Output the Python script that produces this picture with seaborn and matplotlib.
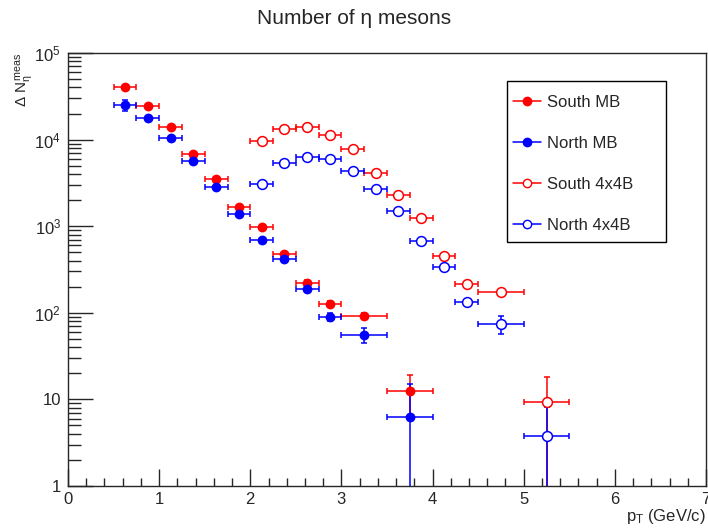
import numpy as np
import pandas as pd
import matplotlib
matplotlib.use("Agg")
import matplotlib.pyplot as plt
import seaborn as sns
from matplotlib.patches import Rectangle
from matplotlib.ticker import FixedLocator, LogLocator, NullFormatter, FixedFormatter, MultipleLocator

# ---- data ----
mb_pt = [0.625, 0.875, 1.125, 1.375, 1.625, 1.875, 2.125, 2.375, 2.625, 2.875, 3.25, 3.75]
mb_xerr = [0.125, 0.125, 0.125, 0.125, 0.125, 0.125, 0.125, 0.125, 0.125, 0.125, 0.25, 0.25]
south_mb = [40200, 24400, 14100, 6760, 3510, 1680, 971, 474, 223, 127, 92.6, 12.5]
south_mb_err = [1800, 1000, 600, 280, 150, 80, 45, 25, 14, 9, 8, 6.5]
north_mb = [25100, 17900, 10400, 5660, 2810, 1370, 693, 415, 188, 89.4, 55.4, 6.3]
north_mb_err = [3500, 900, 500, 250, 130, 70, 40, 25, 14, 9, 11, 8.6]

trg_pt = [2.125, 2.375, 2.625, 2.875, 3.125, 3.375, 3.625, 3.875, 4.125, 4.375, 4.75, 5.25]
trg_xerr = [0.125, 0.125, 0.125, 0.125, 0.125, 0.125, 0.125, 0.125, 0.125, 0.125, 0.25, 0.25]
south_4x4 = [9550, 13100, 14000, 11400, 7730, 4150, 2280, 1240, 453, 215, 174, 9.3]
south_4x4_err = [400, 500, 500, 450, 300, 170, 100, 60, 25, 15, 14, 8.8]
north_4x4 = [3100, 5410, 6290, 5920, 4340, 2670, 1500, 675, 341, 132, 74.3, 3.8]
north_4x4_err = [150, 220, 250, 240, 180, 110, 70, 35, 22, 12, 18, 4.4]

series = [
    ("South MB", mb_pt, mb_xerr, south_mb, south_mb_err, "#ff0000", True),
    ("North MB", mb_pt, mb_xerr, north_mb, north_mb_err, "#0000ff", True),
    ("South 4x4B", trg_pt, trg_xerr, south_4x4, south_4x4_err, "#ff0000", False),
    ("North 4x4B", trg_pt, trg_xerr, north_4x4, north_4x4_err, "#0000ff", False),
]

sns.set_style("ticks")
plt.rcParams['font.family'] = ['Liberation Sans', 'DejaVu Sans']
plt.rcParams['mathtext.fontset'] = 'custom'
plt.rcParams['mathtext.rm'] = 'Liberation Sans'
plt.rcParams['mathtext.it'] = 'Liberation Sans'
plt.rcParams['mathtext.bf'] = 'Liberation Sans'

fig = plt.figure(figsize=(7.08, 5.30), dpi=100)
ax = fig.add_axes([68/708, 1-486/530, (706-68)/708, (486-53)/530])

handles = []
for name, x, xe, y, ye, col, filled in series:
    x = np.array(x); y = np.array(y); ye = np.array(ye)
    lo = np.minimum(ye, y - 1e-3)
    ax.errorbar(x, y, xerr=xe, yerr=[lo, ye], fmt='none', ecolor=col,
                elinewidth=1.1, capsize=2.2, capthick=1.1, zorder=2)
    df = pd.DataFrame({"pt": x, "n": y})
    sns.scatterplot(data=df, x="pt", y="n", ax=ax, s=50, marker='o',
                    color=col if filled else 'white', edgecolor=col,
                    linewidth=0 if filled else 1.1, zorder=3, legend=False)
    h, = ax.plot([], [], color=col, marker='o', lw=1.1, ms=6,
                 mfc=col if filled else 'white', mec=col, mew=1.0)
    handles.append((h, name))

ax.set_yscale('log')
ax.set_xlim(0, 7)
ax.set_ylim(1, 1e5)
ax.set_xlabel('')
ax.set_ylabel('')

ax.xaxis.set_major_locator(MultipleLocator(1))
ax.xaxis.set_minor_locator(MultipleLocator(0.2))
ax.yaxis.set_major_locator(FixedLocator([1, 10, 100, 1e3, 1e4, 1e5]))
ax.yaxis.set_major_formatter(FixedFormatter(['1', '10', r'$10^{2}$', r'$10^{3}$', r'$10^{4}$', r'$10^{5}$']))
ax.yaxis.set_minor_locator(LogLocator(base=10, subs=np.arange(2, 10)))
ax.yaxis.set_minor_formatter(NullFormatter())

ax.tick_params(axis='x', which='major', direction='in', length=12, width=1, labelsize=12, pad=4, top=False)
ax.tick_params(axis='x', which='minor', direction='in', length=6, width=1, top=False)
ax.tick_params(axis='y', which='major', direction='in', length=18, width=1, labelsize=12, pad=5, right=False)
ax.tick_params(axis='y', which='minor', direction='in', length=9, width=1, right=False)
for sp in ax.spines.values():
    sp.set_linewidth(1.0)
    sp.set_visible(True)

fig.text(0.5, 1-18/530, r'Number of η mesons', ha='center', va='center', fontsize=15)
fig.text(706/708, 1-517/530, r'$p_{\rm T}$ (GeV/c)', ha='right', va='center', fontsize=12)
fig.text(24/708, 1-80/530, r'$\Delta\ N_{\eta}^{\rm meas}$', ha='center', va='center', rotation=90, fontsize=11)

# legend frame (pixel box 507..666 x 81..242)
def ax_frac(px, py):
    return (px - 68) / 638, (486 - py) / 433

fx0, fy0 = ax_frac(507, 242)
fx1, fy1 = ax_frac(666, 81)
ax.add_patch(Rectangle((fx0, fy0), fx1 - fx0, fy1 - fy0, transform=ax.transAxes,
                       facecolor='white', edgecolor='black', linewidth=1.0,
                       clip_on=False, zorder=9))
lx, ly = ax_frac(513, 95)
leg = ax.legend([h for h, _ in handles], [n for _, n in handles], loc='upper left',
                bbox_to_anchor=(lx, ly), frameon=False,
                fontsize=12, handlelength=1.65, labelspacing=1.55,
                borderpad=0, handletextpad=0.4, borderaxespad=0)
leg.set_zorder(10)

fig.savefig('out.png', dpi=100)
